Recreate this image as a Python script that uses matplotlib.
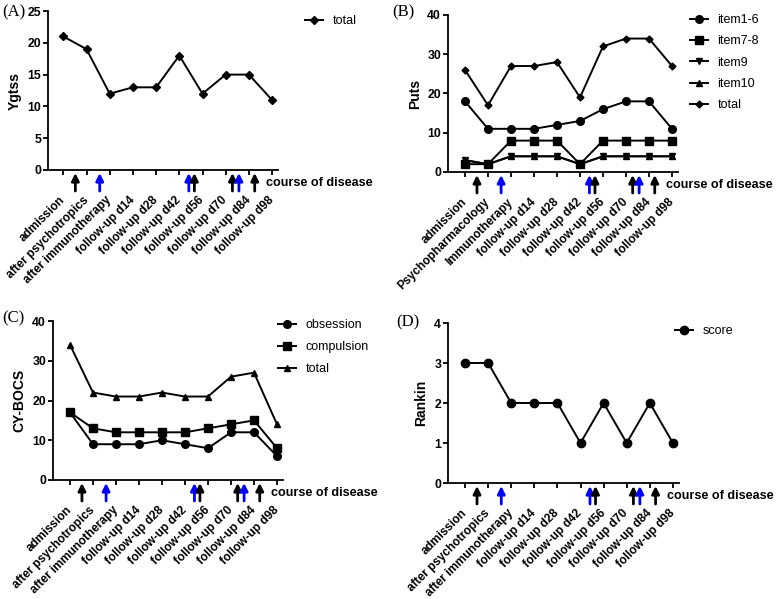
import matplotlib
matplotlib.use("Agg")
import matplotlib.pyplot as plt

plt.rcParams['font.family'] = ['Liberation Sans', 'DejaVu Sans']

W, H = 777, 599

# ---------------- data ----------------
labels_acd = ["admission", "after psychotropics", "after immunotherapy",
              "follow-up d14", "follow-up d28", "follow-up d42", "follow-up d56",
              "follow-up d70", "follow-up d84", "follow-up d98"]
labels_b = ["admission", "Psychopharmacology", "Immunotherapy",
            "follow-up d14", "follow-up d28", "follow-up d42", "follow-up d56",
            "follow-up d70", "follow-up d84", "follow-up d98"]

ygtss_total = [21, 19, 12, 13, 13, 18, 12, 15, 15, 11]

puts_item1_6 = [18, 11, 11, 11, 12, 13, 16, 18, 18, 11]
puts_item7_8 = [2, 2, 8, 8, 8, 2, 8, 8, 8, 8]
puts_item9 = [3, 2, 4, 4, 4, 2, 4, 4, 4, 4]
puts_item10 = [3, 2, 4, 4, 4, 2, 4, 4, 4, 4]
puts_total = [26, 17, 27, 27, 28, 19, 32, 34, 34, 27]

cybocs_obsession = [17, 9, 9, 9, 10, 9, 8, 12, 12, 6]
cybocs_compulsion = [17, 13, 12, 12, 12, 12, 13, 14, 15, 8]
cybocs_total = [34, 22, 21, 21, 22, 21, 21, 26, 27, 14]

rankin_score = [3, 3, 2, 2, 2, 1, 2, 1, 2, 1]

# treatment arrows along the course of disease (in category units)
arrow_pos = [0.52, 1.57, 5.41, 5.65, 7.29, 7.57, 8.25]
arrow_colors = ["black", "blue", "blue", "black", "black", "blue", "black"]

fig = plt.figure(figsize=(W / 100, H / 100), dpi=100)
fig.patch.set_facecolor("white")


def make_axes(left, top, bottom, first_tick, spacing):
    right = first_tick + 9.25 * spacing
    ax = fig.add_axes([left / W, 1 - bottom / H, (right - left) / W, (bottom - top) / H])
    ax.set_xlim(-(first_tick - left) / spacing, 9.25)
    return ax, bottom - top


def style(ax, axh, labels, ylim, yticks, ylabel, panel, panel_xy):
    x = list(range(len(labels)))
    ax.set_ylim(*ylim)
    ax.set_yticks(yticks)
    ax.set_xticks(x)
    ax.set_xticklabels(labels, rotation=45, ha="right", va="center",
                       rotation_mode="anchor", fontsize=8.6, fontweight="bold")
    for t in ax.get_yticklabels():
        t.set_fontweight("bold")
        t.set_fontsize(8.8)
    ax.tick_params(axis="x", length=3.5, width=1.3, pad=17, direction="out")
    ax.tick_params(axis="y", length=3.5, width=1.3, pad=1.5, direction="out")
    for s in ["top", "right"]:
        ax.spines[s].set_visible(False)
    for s in ["left", "bottom"]:
        ax.spines[s].set_linewidth(1.3)
    ax.set_ylabel(ylabel, fontsize=10, fontweight="bold", labelpad=4)
    for p, c in zip(arrow_pos, arrow_colors):
        ax.annotate("", xy=(p, -3.0 / axh), xytext=(p, -21.0 / axh),
                    xycoords=("data", "axes fraction"), textcoords=("data", "axes fraction"),
                    arrowprops=dict(arrowstyle="-|>", color=c, lw=2.0, mutation_scale=11,
                                    shrinkA=0, shrinkB=0),
                    annotation_clip=False)
    ax.text(8.75, -13.0 / axh, "course of disease", transform=ax.get_xaxis_transform(),
            ha="left", va="center", fontsize=9.1, fontweight="bold")
    fig.text(panel_xy[0] / W, 1 - panel_xy[1] / H, panel, family="Liberation Serif",
             fontsize=12, ha="left", va="center")


line_kw = dict(color="black", lw=1.4)


def legend(ax, x, y, spacing=0.75):
    ax.legend(loc="upper left", bbox_to_anchor=(x / W, 1 - y / H), bbox_transform=fig.transFigure,
              frameon=False, borderaxespad=0, borderpad=0, handlelength=1.45,
              handletextpad=0.75, labelspacing=spacing, fontsize=9, numpoints=1)


# ---- (A)
axA, hA = make_axes(48, 11, 170, 63.3, 23.2)
x = range(len(labels_acd))
axA.plot(x, ygtss_total, marker="D", ms=4, label="total", **line_kw)
style(axA, hA, labels_acd, (0, 25), [0, 5, 10, 15, 20, 25], "Ygtss", "(A)", (2, 12))
legend(axA, 305, 15)

# ---- (B)
axB, hB = make_axes(448, 15, 172, 465, 23)
axB.plot(x, puts_item1_6, marker="o", ms=5.5, label="item1-6", **line_kw)
axB.plot(x, puts_item7_8, marker="s", ms=5.2, label="item7-8", **line_kw)
axB.plot(x, puts_item9, marker="v", ms=5, label="item9", **line_kw)
axB.plot(x, puts_item10, marker="^", ms=5, label="item10", **line_kw)
axB.plot(x, puts_total, marker="D", ms=3.5, label="total", **line_kw)
style(axB, hB, labels_b, (0, 40), [0, 10, 20, 30, 40], "Puts", "(B)", (392, 12))
legend(axB, 690, 14)

# ---- (C)
axC, hC = make_axes(53, 321, 480, 70, 23)
axC.plot(x, cybocs_obsession, marker="o", ms=5.5, label="obsession", **line_kw)
axC.plot(x, cybocs_compulsion, marker="s", ms=5.5, label="compulsion", **line_kw)
axC.plot(x, cybocs_total, marker="^", ms=5, label="total", **line_kw)
style(axC, hC, labels_acd, (0, 40), [0, 10, 20, 30, 40], "CY-BOCS", "(C)", (2, 318))
legend(axC, 278, 319, spacing=0.8)

# ---- (D)
axD, hD = make_axes(448, 323, 483, 465, 23.1)
axD.plot(x, rankin_score, marker="o", ms=6, label="score", **line_kw)
style(axD, hD, labels_acd, (0, 4), [0, 1, 2, 3, 4], "Rankin", "(D)", (396, 322))
legend(axD, 675, 325)

fig.savefig("out.png", dpi=100, facecolor="white")
